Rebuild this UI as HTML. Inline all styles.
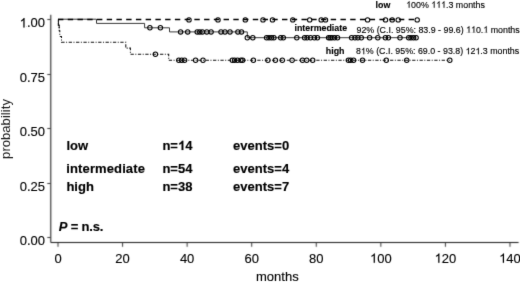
<!DOCTYPE html>
<html><head><meta charset="utf-8"><style>
html,body{margin:0;padding:0;background:#fff;}
body{width:520px;height:282px;overflow:hidden;}
svg{display:block;font-family:"Liberation Sans",sans-serif;font-kerning:none;}
</style></head><body>
<svg width="520" height="282" viewBox="0 0 520 282">
<defs><filter id="soft" x="0" y="0" width="520" height="282" filterUnits="userSpaceOnUse" color-interpolation-filters="sRGB"><feConvolveMatrix order="3" kernelMatrix="0.0081 0.0738 0.0081 0.0738 0.6724 0.0738 0.0081 0.0738 0.0081" edgeMode="duplicate" preserveAlpha="true"/></filter></defs>
<filter id="soft2" x="0" y="0" width="520" height="282" filterUnits="userSpaceOnUse" color-interpolation-filters="sRGB"><feConvolveMatrix order="3" kernelMatrix="0.0100 0.0800 0.0100 0.0800 0.6400 0.0800 0.0100 0.0800 0.0100" edgeMode="none" preserveAlpha="false"/></filter>
<g filter="url(#soft)">
<rect width="520" height="282" fill="#fff"/>
<g filter="url(#soft2)"><path d="M50.8,14.8 V242.5 H518.6" fill="none" stroke="#111" stroke-width="1"/>
<g stroke="#333" stroke-width="1" fill="none">
<line x1="47.3" y1="19.50" x2="50.5" y2="19.50"/><line x1="47.3" y1="74.50" x2="50.5" y2="74.50"/><line x1="47.3" y1="128.50" x2="50.5" y2="128.50"/><line x1="47.3" y1="183.50" x2="50.5" y2="183.50"/><line x1="47.3" y1="237.50" x2="50.5" y2="237.50"/><line x1="58.00" y1="242.5" x2="58.00" y2="246.8"/><line x1="122.57" y1="242.5" x2="122.57" y2="246.8"/><line x1="187.14" y1="242.5" x2="187.14" y2="246.8"/><line x1="251.71" y1="242.5" x2="251.71" y2="246.8"/><line x1="316.28" y1="242.5" x2="316.28" y2="246.8"/><line x1="380.85" y1="242.5" x2="380.85" y2="246.8"/><line x1="445.42" y1="242.5" x2="445.42" y2="246.8"/><line x1="509.99" y1="242.5" x2="509.99" y2="246.8"/>
</g></g>
<g font-size="13" fill="#000" stroke="#000" stroke-width="0.12">
<text x="45" y="27.40" text-anchor="end">1.00</text><text x="45" y="82.40" text-anchor="end">0.75</text><text x="45" y="136.40" text-anchor="end">0.50</text><text x="45" y="191.40" text-anchor="end">0.25</text><text x="45" y="245.40" text-anchor="end">0.00</text>
<text x="58.00" y="262.75" text-anchor="middle">0</text><text x="122.57" y="262.75" text-anchor="middle">20</text><text x="187.14" y="262.75" text-anchor="middle">40</text><text x="251.71" y="262.75" text-anchor="middle">60</text><text x="316.28" y="262.75" text-anchor="middle">80</text><text x="380.85" y="262.75" text-anchor="middle">100</text><text x="445.42" y="262.75" text-anchor="middle">120</text><text x="509.99" y="262.75" text-anchor="middle">140</text>
<text x="256" y="280.6">months</text>
<text transform="translate(9.6,129.0) rotate(-90)" text-anchor="middle" textLength="59.8" lengthAdjust="spacing" stroke="none" fill="#1a1a1a">probability</text>
</g>
<g font-size="13" font-weight="bold" fill="#000" stroke="#000" stroke-width="0.15">
<text x="66.4" y="150.1">low</text>
<text x="66.3" y="172.8" textLength="78.6" lengthAdjust="spacing">intermediate</text>
<text x="66.4" y="190.9">high</text>
<text x="162.4" y="150.1">n=14</text>
<text x="162.4" y="172.8">n=54</text>
<text x="162.4" y="191.1">n=38</text>
<text x="233.1" y="150.1">events=0</text>
<text x="233.1" y="172.8">events=4</text>
<text x="233.1" y="191.1">events=7</text>
<text x="58.8" y="231.4" textLength="44.6" lengthAdjust="spacing"><tspan font-style="italic">P</tspan> = n.s.</text>
</g>
<g font-size="8.85" fill="#000" stroke="#000" stroke-width="0.14">
<text x="375.6" y="7.7" font-weight="bold">low</text>
<text x="406.2" y="7.7">100% 111.3 months</text>
<text x="294.5" y="30.6" font-weight="bold">intermediate</text>
<text x="356.5" y="32.5">92% (C.I. 95%: 83.9 - 99.6) 110.1 months</text>
<text x="325.8" y="53.8" font-weight="bold">high</text>
<text x="356" y="54.2">81% (C.I. 95%: 69.0 - 93.8) 121.3 months</text>
</g>
<g><rect x="19.93" y="17.86" width="6.70" height="9.84" fill="#fff"/><rect x="370.24" y="253.21" width="6.70" height="9.84" fill="#fff"/><rect x="434.81" y="253.21" width="6.70" height="9.84" fill="#fff"/><rect x="499.38" y="253.21" width="6.70" height="9.84" fill="#fff"/><rect x="178.00" y="140.56" width="7.15" height="9.84" fill="#fff"/><rect x="406.12" y="1.01" width="4.92" height="6.99" fill="#fff"/><rect x="431.19" y="1.01" width="4.92" height="6.99" fill="#fff"/><rect x="436.11" y="1.01" width="4.92" height="6.99" fill="#fff"/><rect x="441.03" y="1.01" width="4.92" height="6.99" fill="#fff"/><rect x="466.03" y="25.81" width="4.92" height="6.99" fill="#fff"/><rect x="470.96" y="25.81" width="4.92" height="6.99" fill="#fff"/><rect x="483.25" y="25.81" width="4.92" height="6.99" fill="#fff"/><rect x="360.83" y="47.51" width="4.92" height="6.99" fill="#fff"/><rect x="465.53" y="47.51" width="4.92" height="6.99" fill="#fff"/><rect x="475.38" y="47.51" width="4.92" height="6.99" fill="#fff"/></g><g fill="#000" stroke="#000"><path transform="translate(19.688,27.400) scale(0.00635,-0.00635)" d="M763,0H583V1147Q518,1085 412.5,1023Q307,961 223,930V1104Q374,1175 487,1276Q600,1377 647,1472H763Z" stroke-width="18.9"/><path transform="translate(369.998,262.750) scale(0.00635,-0.00635)" d="M763,0H583V1147Q518,1085 412.5,1023Q307,961 223,930V1104Q374,1175 487,1276Q600,1377 647,1472H763Z" stroke-width="18.9"/><path transform="translate(434.568,262.750) scale(0.00635,-0.00635)" d="M763,0H583V1147Q518,1085 412.5,1023Q307,961 223,930V1104Q374,1175 487,1276Q600,1377 647,1472H763Z" stroke-width="18.9"/><path transform="translate(499.138,262.750) scale(0.00635,-0.00635)" d="M763,0H583V1147Q518,1085 412.5,1023Q307,961 223,930V1104Q374,1175 487,1276Q600,1377 647,1472H763Z" stroke-width="18.9"/><path transform="translate(177.931,150.100) scale(0.00635,-0.00635)" d="M856,0H575V1059Q421,915 212,846V1101Q322,1137 451,1237Q580,1337 628,1472H856Z" stroke-width="23.6"/><path transform="translate(406.200,7.700) scale(0.00432,-0.00432)" d="M763,0H583V1147Q518,1085 412.5,1023Q307,961 223,930V1104Q374,1175 487,1276Q600,1377 647,1472H763Z" stroke-width="32.4"/><path transform="translate(431.263,7.700) scale(0.00432,-0.00432)" d="M763,0H583V1147Q518,1085 412.5,1023Q307,961 223,930V1104Q374,1175 487,1276Q600,1377 647,1472H763Z" stroke-width="32.4"/><path transform="translate(436.184,7.700) scale(0.00432,-0.00432)" d="M763,0H583V1147Q518,1085 412.5,1023Q307,961 223,930V1104Q374,1175 487,1276Q600,1377 647,1472H763Z" stroke-width="32.4"/><path transform="translate(441.106,7.700) scale(0.00432,-0.00432)" d="M763,0H583V1147Q518,1085 412.5,1023Q307,961 223,930V1104Q374,1175 487,1276Q600,1377 647,1472H763Z" stroke-width="32.4"/><path transform="translate(466.109,32.500) scale(0.00432,-0.00432)" d="M763,0H583V1147Q518,1085 412.5,1023Q307,961 223,930V1104Q374,1175 487,1276Q600,1377 647,1472H763Z" stroke-width="32.4"/><path transform="translate(471.031,32.500) scale(0.00432,-0.00432)" d="M763,0H583V1147Q518,1085 412.5,1023Q307,961 223,930V1104Q374,1175 487,1276Q600,1377 647,1472H763Z" stroke-width="32.4"/><path transform="translate(483.328,32.500) scale(0.00432,-0.00432)" d="M763,0H583V1147Q518,1085 412.5,1023Q307,961 223,930V1104Q374,1175 487,1276Q600,1377 647,1472H763Z" stroke-width="32.4"/><path transform="translate(360.906,54.200) scale(0.00432,-0.00432)" d="M763,0H583V1147Q518,1085 412.5,1023Q307,961 223,930V1104Q374,1175 487,1276Q600,1377 647,1472H763Z" stroke-width="32.4"/><path transform="translate(465.609,54.200) scale(0.00432,-0.00432)" d="M763,0H583V1147Q518,1085 412.5,1023Q307,961 223,930V1104Q374,1175 487,1276Q600,1377 647,1472H763Z" stroke-width="32.4"/><path transform="translate(475.453,54.200) scale(0.00432,-0.00432)" d="M763,0H583V1147Q518,1085 412.5,1023Q307,961 223,930V1104Q374,1175 487,1276Q600,1377 647,1472H763Z" stroke-width="32.4"/></g>
<path d="M58.0,19.2 H58.4 V25.2 H59.2 V30.8 H59.8 V36.4 H61.5 V42.3 H125.8 V48.1 H130.4 V54.2 H168.7 V60.2 H449.8" fill="none" stroke="#111" stroke-width="1.05" stroke-dasharray="3.3 1.5 1 1.575" stroke-dashoffset="3.1"/>
<path d="M58.4,19.2 V25.2 H59.2 V28.4" fill="none" stroke="#111" stroke-width="1.05"/>
<path d="M58.0,19.2 H96.5 V23.4 H144.6 V27.8 H169.5 V31.9 H247.3 V37.7 H416.1" fill="none" stroke="#3a3a3a" stroke-width="1"/>
<path d="M58.0,19.4 H417.3" fill="none" stroke="#000" stroke-width="1.55" stroke-dasharray="5.4 4.34"/>
<g fill="none" stroke="#000" stroke-width="1.05"><circle cx="189.0" cy="19.9" r="2.2"/><circle cx="218.0" cy="19.9" r="2.2"/><circle cx="245.3" cy="19.9" r="2.2"/><circle cx="263.0" cy="19.9" r="2.2"/><circle cx="272.5" cy="19.9" r="2.2"/><circle cx="292.8" cy="19.9" r="2.2"/><circle cx="309.7" cy="19.9" r="2.2"/><circle cx="321.2" cy="19.9" r="2.2"/><circle cx="325.5" cy="19.9" r="2.2"/><circle cx="367.6" cy="19.9" r="2.2"/><circle cx="385.5" cy="19.9" r="2.2"/><circle cx="392.2" cy="19.9" r="2.2"/><circle cx="398.2" cy="19.9" r="2.2"/><circle cx="417.2" cy="19.9" r="2.2"/><circle cx="149.9" cy="27.8" r="2.2"/><circle cx="160.4" cy="27.8" r="2.2"/><circle cx="180.6" cy="31.9" r="2.2"/><circle cx="187.7" cy="31.9" r="2.2"/><circle cx="197.2" cy="31.9" r="2.2"/><circle cx="199.8" cy="31.9" r="2.2"/><circle cx="202.4" cy="31.9" r="2.2"/><circle cx="206.8" cy="31.9" r="2.2"/><circle cx="211.1" cy="31.9" r="2.2"/><circle cx="221.0" cy="31.9" r="2.2"/><circle cx="225.0" cy="31.9" r="2.2"/><circle cx="230.0" cy="31.9" r="2.2"/><circle cx="237.9" cy="31.9" r="2.2"/><circle cx="241.5" cy="31.9" r="2.2"/><circle cx="247.3" cy="37.7" r="2.2"/><circle cx="252.8" cy="37.7" r="2.2"/><circle cx="266.6" cy="37.7" r="2.2"/><circle cx="269.0" cy="37.7" r="2.2"/><circle cx="271.5" cy="37.7" r="2.2"/><circle cx="273.9" cy="37.7" r="2.2"/><circle cx="280.7" cy="37.7" r="2.2"/><circle cx="283.3" cy="37.7" r="2.2"/><circle cx="296.8" cy="37.7" r="2.2"/><circle cx="304.6" cy="37.7" r="2.2"/><circle cx="307.1" cy="37.7" r="2.2"/><circle cx="310.5" cy="37.7" r="2.2"/><circle cx="314.4" cy="37.7" r="2.2"/><circle cx="317.4" cy="37.7" r="2.2"/><circle cx="328.6" cy="37.7" r="2.2"/><circle cx="330.2" cy="37.7" r="2.2"/><circle cx="332.0" cy="37.7" r="2.2"/><circle cx="334.6" cy="37.7" r="2.2"/><circle cx="337.5" cy="37.7" r="2.2"/><circle cx="351.6" cy="37.7" r="2.2"/><circle cx="355.0" cy="37.7" r="2.2"/><circle cx="357.9" cy="37.7" r="2.2"/><circle cx="361.3" cy="37.7" r="2.2"/><circle cx="369.6" cy="37.7" r="2.2"/><circle cx="377.8" cy="37.7" r="2.2"/><circle cx="385.4" cy="37.7" r="2.2"/><circle cx="388.4" cy="37.7" r="2.2"/><circle cx="400.0" cy="37.7" r="2.2"/><circle cx="408.7" cy="37.7" r="2.2"/><circle cx="411.0" cy="37.7" r="2.2"/><circle cx="413.6" cy="37.7" r="2.2"/><circle cx="416.1" cy="37.7" r="2.2"/><circle cx="155.4" cy="54.2" r="2.2"/><circle cx="178.8" cy="60.2" r="2.2"/><circle cx="181.7" cy="60.2" r="2.2"/><circle cx="184.6" cy="60.2" r="2.2"/><circle cx="195.6" cy="60.2" r="2.2"/><circle cx="203.0" cy="60.2" r="2.2"/><circle cx="232.3" cy="60.2" r="2.2"/><circle cx="234.6" cy="60.2" r="2.2"/><circle cx="237.5" cy="60.2" r="2.2"/><circle cx="240.9" cy="60.2" r="2.2"/><circle cx="242.7" cy="60.2" r="2.2"/><circle cx="253.4" cy="60.2" r="2.2"/><circle cx="267.9" cy="60.2" r="2.2"/><circle cx="275.4" cy="60.2" r="2.2"/><circle cx="282.3" cy="60.2" r="2.2"/><circle cx="292.1" cy="60.2" r="2.2"/><circle cx="302.5" cy="60.2" r="2.2"/><circle cx="306.7" cy="60.2" r="2.2"/><circle cx="312.7" cy="60.2" r="2.2"/><circle cx="348.4" cy="60.2" r="2.2"/><circle cx="350.7" cy="60.2" r="2.2"/><circle cx="353.6" cy="60.2" r="2.2"/><circle cx="362.5" cy="60.2" r="2.2"/><circle cx="386.3" cy="60.2" r="2.2"/><circle cx="406.7" cy="60.2" r="2.2"/><circle cx="449.8" cy="60.2" r="2.2"/></g>
</g>
</svg>
</body></html>
